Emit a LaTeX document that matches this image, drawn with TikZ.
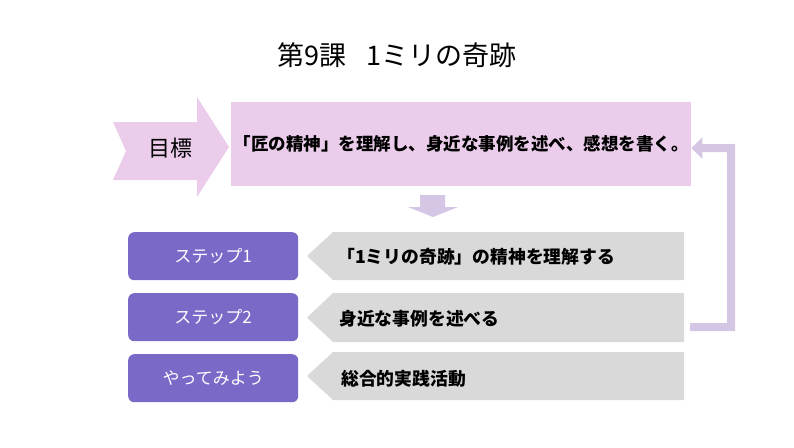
\documentclass[tikz,border=0pt]{standalone}
\usepackage{fontspec}
\setmainfont{Noto Sans CJK JP}
\usetikzlibrary{arrows.meta}
\definecolor{pinkc}{HTML}{EBCDEB}
\definecolor{lavc}{HTML}{D6C6E6}
\definecolor{purc}{HTML}{7B69C8}
\definecolor{grayc}{HTML}{D9D9D9}
\tikzset{
  goalstyle/.style={fill=pinkc, draw=none, inner sep=0pt, minimum width=460pt, minimum height=84pt, font=\fontsize{17.5}{20}\selectfont\bfseries},
  stepbox/.style={fill=purc, draw=none, rounded corners=6pt, inner sep=0pt, minimum width=170pt, minimum height=48pt, text=white, font=\fontsize{17}{19}\selectfont},
  graytext/.style={anchor=west, inner sep=0pt, font=\fontsize{17.8}{20}\selectfont\bfseries},
  grayshape/.style={fill=grayc, draw=none},
  conn/.style={draw=lavc, line width=8pt, -{Triangle[width=21pt,length=11pt]}},
}
\begin{document}
\begin{tikzpicture}[x=1pt,y=-1pt]
\useasboundingbox (0,0) rectangle (794,447);
% title
\node[inner sep=0pt, font=\fontsize{27}{30}\selectfont] (title) at (397,55) {第9課\hspace{0.75em}1ミリの奇跡};
% chevron
\fill[pinkc] (113,122) -- (197,122) -- (197,97) -- (229,147) -- (197,197) -- (197,180) -- (113,180) -- (126,151) -- cycle;
\node[inner sep=0pt, font=\fontsize{22}{24}\selectfont] (goallabel) at (170,148) {目標};
% goal box
\node[goalstyle, anchor=north west] (goalbox) at (231,102) {「匠の精神」を理解し、身近な事例を述べ、感想を書く。};
% down arrow
\fill[lavc] (420,195) -- (445,195) -- (445,207) -- (458,207) -- (433,217) -- (408,207) -- (420,207) -- cycle;
% purple boxes
\node[stepbox, anchor=north west] (s1) at (128,232) {ステップ1};
\node[stepbox, anchor=north west] (s2) at (128,293) {ステップ2};
\node[stepbox, anchor=north west] (s3) at (128,354) {やってみよう};
% gray arrows
\fill[grayshape] (684,232) -- (333,232) -- (307,256) -- (333,280) -- (684,280) -- cycle;
\fill[grayshape] (684,293) -- (333,293) -- (307,317.5) -- (333,342) -- (684,342) -- cycle;
\fill[grayshape] (684,352) -- (333,352) -- (307,376) -- (333,400) -- (684,400) -- cycle;
\node[graytext] (g1) at (337,257) {「1ミリの奇跡」の精神を理解する};
\node[graytext] (g2) at (339,319) {身近な事例を述べる};
\node[graytext] (g3) at (341,379) {総合的実践活動};
% feedback connector
\coordinate (fb) at (690,327);
\draw[conn] (fb) -- (731,327) -- (731,148) -- ([yshift=-4pt]goalbox.east);
\end{tikzpicture}
\end{document}
